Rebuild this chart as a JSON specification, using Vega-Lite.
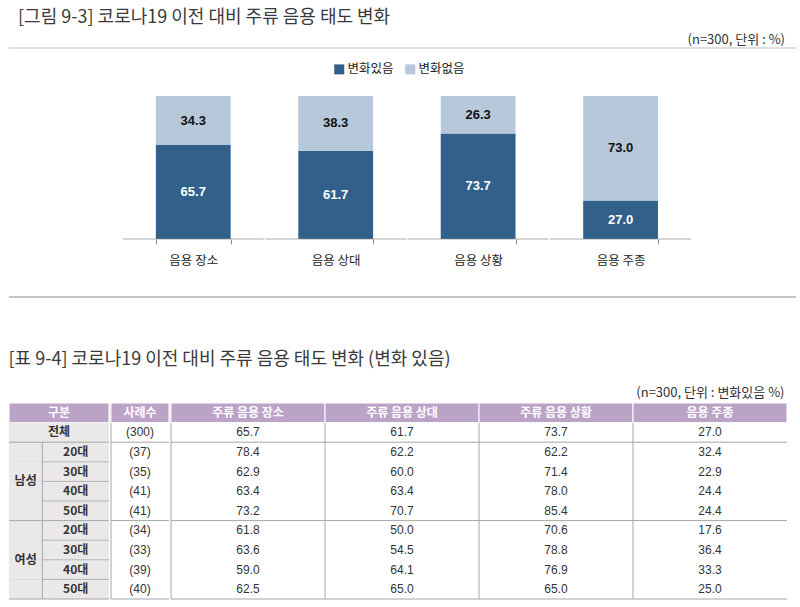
{
  "$schema": "https://vega.github.io/schema/vega-lite/v6.json",
  "background": "white",
  "padding": {"left": 8, "top": 8, "right": 5, "bottom": 0},
  "title": {"text": "[그림 9-3] 코로나19 이전 대비 주류 음용 태도 변화", "anchor": "start", "dx": 10, "fontSize": 18, "fontWeight": "normal", "color": "#3a3a3a", "font": "Noto Sans CJK KR", "offset": 7},
  "datasets": {
    "bars": [
      {"cat": "음용 장소", "grp": "변화있음", "v": 65.7},
      {"cat": "음용 장소", "grp": "변화없음", "v": 34.3},
      {"cat": "음용 상대", "grp": "변화있음", "v": 61.7},
      {"cat": "음용 상대", "grp": "변화없음", "v": 38.3},
      {"cat": "음용 상황", "grp": "변화있음", "v": 73.7},
      {"cat": "음용 상황", "grp": "변화없음", "v": 26.3},
      {"cat": "음용 주종", "grp": "변화있음", "v": 27.0},
      {"cat": "음용 주종", "grp": "변화없음", "v": 73.0}
    ],
    "rows": [
      {"key": "전체", "sex": "전체", "age": "", "n": "(300)", "주류 음용 장소": 65.7, "주류 음용 상대": 61.7, "주류 음용 상황": 73.7, "음용 주종": 27.0},
      {"key": "남성 20대", "sex": "남성", "age": "20대", "n": "(37)", "주류 음용 장소": 78.4, "주류 음용 상대": 62.2, "주류 음용 상황": 62.2, "음용 주종": 32.4},
      {"key": "남성 30대", "sex": "남성", "age": "30대", "n": "(35)", "주류 음용 장소": 62.9, "주류 음용 상대": 60.0, "주류 음용 상황": 71.4, "음용 주종": 22.9},
      {"key": "남성 40대", "sex": "남성", "age": "40대", "n": "(41)", "주류 음용 장소": 63.4, "주류 음용 상대": 63.4, "주류 음용 상황": 78.0, "음용 주종": 24.4},
      {"key": "남성 50대", "sex": "남성", "age": "50대", "n": "(41)", "주류 음용 장소": 73.2, "주류 음용 상대": 70.7, "주류 음용 상황": 85.4, "음용 주종": 24.4},
      {"key": "여성 20대", "sex": "여성", "age": "20대", "n": "(34)", "주류 음용 장소": 61.8, "주류 음용 상대": 50.0, "주류 음용 상황": 70.6, "음용 주종": 17.6},
      {"key": "여성 30대", "sex": "여성", "age": "30대", "n": "(33)", "주류 음용 장소": 63.6, "주류 음용 상대": 54.5, "주류 음용 상황": 78.8, "음용 주종": 36.4},
      {"key": "여성 40대", "sex": "여성", "age": "40대", "n": "(39)", "주류 음용 장소": 59.0, "주류 음용 상대": 64.1, "주류 음용 상황": 76.9, "음용 주종": 33.3},
      {"key": "여성 50대", "sex": "여성", "age": "50대", "n": "(40)", "주류 음용 장소": 62.5, "주류 음용 상대": 65.0, "주류 음용 상황": 65.0, "음용 주종": 25.0}
    ]
  },
  "spacing": 52,
  "vconcat": [
    {
      "width": 787,
      "height": 249,
      "title": {"text": "(n=300, 단위 : %)", "anchor": "end", "dx": -12, "fontSize": 13, "fontWeight": "normal", "color": "#333333", "offset": 1},
      "data": {"name": "bars"},
      "layer": [
        {
          "transform": [{"filter": "datum.cat == '음용 장소' && datum.grp == '변화있음'"}],
          "mark": {"type": "rule", "color": "#BDBDBD", "strokeWidth": 1},
          "encoding": {"y": {"value": 0}}
        },
        {
          "transform": [{"filter": "datum.cat == '음용 장소' && datum.grp == '변화있음'"}],
          "mark": {"type": "rule", "color": "#C4C4C4", "strokeWidth": 2},
          "encoding": {"y": {"value": "height"}}
        },
        {
          "mark": {"type": "bar"},
          "encoding": {
            "x": {"field": "cat", "type": "nominal", "scale": {"domain": ["음용 장소", "음용 상대", "음용 상황", "음용 주종"], "paddingInner": 0.475, "paddingOuter": 1.028, "align": 0.5155}, "axis": {"title": null, "orient": "bottom", "offset": -58, "domain": false, "ticks": true, "tickBand": "extent", "tickSize": 5, "tickColor": "#8c8c8c", "labelFontSize": 12.5, "labelColor": "#222222", "labelPadding": 10, "labelFont": "Noto Sans CJK KR", "labelAngle": 0, "grid": false}},
            "y": {"field": "v", "type": "quantitative", "stack": "zero", "scale": {"domain": [-40.56, 133.57], "nice": false, "zero": false}, "axis": null},
            "order": {"field": "grp", "sort": "descending"},
            "color": {"field": "grp", "type": "nominal", "scale": {"domain": ["변화있음", "변화없음"], "range": ["#31618A", "#B6C8DA"]}, "legend": {"orient": "none", "legendX": 324, "legendY": 15, "direction": "horizontal", "title": null, "symbolType": "square", "symbolSize": 100, "symbolStrokeWidth": 0, "labelFontSize": 12.5, "labelColor": "#222222", "labelFont": "Noto Sans CJK KR", "columnPadding": 10, "labelOffset": 2}}
          }
        },
        {
          "mark": {"type": "text", "fontSize": 13, "fontWeight": "bold", "font": "Liberation Sans"},
          "encoding": {
            "x": {"field": "cat", "type": "nominal", "scale": {"domain": ["음용 장소", "음용 상대", "음용 상황", "음용 주종"], "paddingInner": 0.475, "paddingOuter": 1.028, "align": 0.5155}, "axis": {"title": null, "orient": "bottom", "offset": -58, "domain": false, "ticks": true, "tickBand": "extent", "tickSize": 5, "tickColor": "#8c8c8c", "labelFontSize": 12.5, "labelColor": "#222222", "labelPadding": 10, "labelFont": "Noto Sans CJK KR", "labelAngle": 0, "grid": false}},
            "y": {"field": "v", "type": "quantitative", "stack": "zero", "bandPosition": 0.5, "scale": {"domain": [-40.56, 133.57], "nice": false, "zero": false}, "axis": null},
            "order": {"field": "grp", "sort": "descending"},
            "detail": {"field": "grp", "type": "nominal"},
            "text": {"field": "v", "type": "quantitative", "format": ".1f"},
            "color": {"condition": {"test": "datum.grp == '변화있음'", "value": "#ffffff"}, "value": "#111111"}
          }
        },
        {
          "transform": [{"filter": "datum.grp == '변화있음'"}],
          "mark": {"type": "tick", "size": 141, "thickness": 1, "color": "#8c8c8c"},
          "encoding": {
            "x": {"field": "cat", "type": "nominal", "scale": {"domain": ["음용 장소", "음용 상대", "음용 상황", "음용 주종"], "paddingInner": 0.475, "paddingOuter": 1.028, "align": 0.5155}, "axis": {"title": null, "orient": "bottom", "offset": -58, "domain": false, "ticks": true, "tickBand": "extent", "tickSize": 5, "tickColor": "#8c8c8c", "labelFontSize": 12.5, "labelColor": "#222222", "labelPadding": 10, "labelFont": "Noto Sans CJK KR", "labelAngle": 0, "grid": false}},
            "y": {"datum": 0, "type": "quantitative", "scale": {"domain": [-40.56, 133.57], "nice": false, "zero": false}, "axis": null}
          }
        }
      ]
    },
    {
      "title": {"text": "[표 9-4] 코로나19 이전 대비 주류 음용 태도 변화 (변화 있음)", "anchor": "start", "fontSize": 18, "fontWeight": "normal", "color": "#3a3a3a", "font": "Noto Sans CJK KR", "offset": 18},
      "vconcat": [
        {
          "title": {"text": "(n=300, 단위 : 변화있음 %)", "anchor": "end", "dx": -3, "fontSize": 13, "fontWeight": "normal", "color": "#333333", "offset": 3},
          "spacing": 0,
          "hconcat": [
            {
              "width": 100,
              "height": 196,
              "data": {"name": "rows"},
              "layer": [
                {
                  "mark": {"type": "rect", "fill": "#EAE8E8"},
                  "encoding": {"y": {"field": "key", "type": "nominal", "scale": {"domain": ["hdr", "전체", "남성 20대", "남성 30대", "남성 40대", "남성 50대", "여성 20대", "여성 30대", "여성 40대", "여성 50대"], "paddingInner": 0, "paddingOuter": 0}, "axis": null}}
                },
                {
                  "transform": [{"filter": {"field": "age", "oneOf": ["20대", "30대", "40대"]}}],
                  "mark": {"type": "rule", "color": "#B5B5B5"},
                  "encoding": {"y": {"field": "key", "type": "nominal", "bandPosition": 1, "scale": {"domain": ["hdr", "전체", "남성 20대", "남성 30대", "남성 40대", "남성 50대", "여성 20대", "여성 30대", "여성 40대", "여성 50대"], "paddingInner": 0, "paddingOuter": 0}, "axis": null}}
                },
                {
                  "transform": [{"filter": "datum.key != '전체'"}],
                  "mark": {"type": "rect", "fill": "#EAE8E8"},
                  "encoding": {
                    "x": {"datum": "s", "type": "nominal", "scale": {"domain": ["s", "a", "b"], "paddingInner": 0, "paddingOuter": 0}, "axis": null},
                    "y": {"field": "key", "type": "nominal", "scale": {"domain": ["hdr", "전체", "남성 20대", "남성 30대", "남성 40대", "남성 50대", "여성 20대", "여성 30대", "여성 40대", "여성 50대"], "paddingInner": 0, "paddingOuter": 0}, "axis": null}
                  }
                },
                {
                  "transform": [{"filter": "datum.key == '전체'"}],
                  "mark": {"type": "rule", "color": "#A6A6A6"},
                  "encoding": {"x": {"datum": "s", "type": "nominal", "bandPosition": 1, "scale": {"domain": ["s", "a", "b"], "paddingInner": 0, "paddingOuter": 0}, "axis": null}}
                },
                {
                  "transform": [{"filter": "datum.key == '전체'"}],
                  "mark": {"type": "rect", "fill": "#BBA2C7", "stroke": "#ffffff", "strokeWidth": 1},
                  "encoding": {"y": {"datum": "hdr", "type": "nominal", "scale": {"domain": ["hdr", "전체", "남성 20대", "남성 30대", "남성 40대", "남성 50대", "여성 20대", "여성 30대", "여성 40대", "여성 50대"], "paddingInner": 0, "paddingOuter": 0}, "axis": null}}
                },
                {
                  "transform": [{"filter": "datum.key == '전체'"}],
                  "mark": {"type": "rect", "fill": "#EAE8E8"},
                  "encoding": {"y": {"field": "key", "type": "nominal", "scale": {"domain": ["hdr", "전체", "남성 20대", "남성 30대", "남성 40대", "남성 50대", "여성 20대", "여성 30대", "여성 40대", "여성 50대"], "paddingInner": 0, "paddingOuter": 0}, "axis": null}}
                },
                {
                  "transform": [{"filter": {"field": "key", "oneOf": ["전체", "남성 50대", "여성 50대"]}}],
                  "mark": {"type": "rule", "color": "#A6A6A6"},
                  "encoding": {"y": {"field": "key", "type": "nominal", "bandPosition": 1, "scale": {"domain": ["hdr", "전체", "남성 20대", "남성 30대", "남성 40대", "남성 50대", "여성 20대", "여성 30대", "여성 40대", "여성 50대"], "paddingInner": 0, "paddingOuter": 0}, "axis": null}}
                },
                {
                  "transform": [{"filter": "datum.key == '전체'"}],
                  "mark": {"type": "text", "fontWeight": "bold", "fontSize": 12, "color": "#ffffff", "font": "Noto Sans CJK KR"},
                  "encoding": {
                    "x": {"datum": "a", "type": "nominal", "scale": {"domain": ["s", "a", "b"], "paddingInner": 0, "paddingOuter": 0}, "axis": null},
                    "y": {"datum": "hdr", "type": "nominal", "scale": {"domain": ["hdr", "전체", "남성 20대", "남성 30대", "남성 40대", "남성 50대", "여성 20대", "여성 30대", "여성 40대", "여성 50대"], "paddingInner": 0, "paddingOuter": 0}, "axis": null},
                    "text": {"value": "구분"}
                  }
                },
                {
                  "transform": [{"filter": "datum.key == '전체'"}],
                  "mark": {"type": "text", "fontWeight": "bold", "fontSize": 12, "color": "#333333", "font": "Noto Sans CJK KR"},
                  "encoding": {
                    "x": {"datum": "a", "type": "nominal", "scale": {"domain": ["s", "a", "b"], "paddingInner": 0, "paddingOuter": 0}, "axis": null},
                    "y": {"field": "key", "type": "nominal", "scale": {"domain": ["hdr", "전체", "남성 20대", "남성 30대", "남성 40대", "남성 50대", "여성 20대", "여성 30대", "여성 40대", "여성 50대"], "paddingInner": 0, "paddingOuter": 0}, "axis": null},
                    "text": {"field": "sex"}
                  }
                },
                {
                  "transform": [{"filter": "datum.age == '30대'"}],
                  "mark": {"type": "text", "fontWeight": "bold", "fontSize": 12, "color": "#333333", "font": "Noto Sans CJK KR"},
                  "encoding": {
                    "x": {"datum": "s", "type": "nominal", "scale": {"domain": ["s", "a", "b"], "paddingInner": 0, "paddingOuter": 0}, "axis": null},
                    "y": {"field": "key", "type": "nominal", "bandPosition": 1, "scale": {"domain": ["hdr", "전체", "남성 20대", "남성 30대", "남성 40대", "남성 50대", "여성 20대", "여성 30대", "여성 40대", "여성 50대"], "paddingInner": 0, "paddingOuter": 0}, "axis": null},
                    "text": {"field": "sex"}
                  }
                },
                {
                  "transform": [{"filter": "datum.key != '전체'"}],
                  "mark": {"type": "text", "fontWeight": "bold", "fontSize": 12, "color": "#333333", "font": "Noto Sans CJK KR"},
                  "encoding": {
                    "x": {"datum": "a", "type": "nominal", "bandPosition": 1, "scale": {"domain": ["s", "a", "b"], "paddingInner": 0, "paddingOuter": 0}, "axis": null},
                    "y": {"field": "key", "type": "nominal", "scale": {"domain": ["hdr", "전체", "남성 20대", "남성 30대", "남성 40대", "남성 50대", "여성 20대", "여성 30대", "여성 40대", "여성 50대"], "paddingInner": 0, "paddingOuter": 0}, "axis": null},
                    "text": {"field": "age"}
                  }
                }
              ]
            },
            {
              "width": 58,
              "height": 196,
              "data": {"name": "rows"},
              "layer": [
                {
                  "transform": [{"filter": "datum.key == '전체'"}],
                  "mark": {"type": "rule", "color": "#A6A6A6"},
                  "encoding": {"x": {"datum": "n", "type": "nominal", "bandPosition": 0, "scale": {"domain": ["n"], "paddingInner": 0, "paddingOuter": 0}, "axis": null}}
                },
                {
                  "transform": [{"filter": "datum.key == '전체'"}],
                  "mark": {"type": "rect", "fill": "#BBA2C7", "stroke": "#ffffff", "strokeWidth": 1},
                  "encoding": {
                    "x": {"datum": "n", "type": "nominal", "scale": {"domain": ["n"], "paddingInner": 0, "paddingOuter": 0}, "axis": null},
                    "y": {"datum": "hdr", "type": "nominal", "scale": {"domain": ["hdr", "전체", "남성 20대", "남성 30대", "남성 40대", "남성 50대", "여성 20대", "여성 30대", "여성 40대", "여성 50대"], "paddingInner": 0, "paddingOuter": 0}, "axis": null}
                  }
                },
                {
                  "transform": [{"filter": {"field": "key", "oneOf": ["전체", "남성 50대", "여성 50대"]}}],
                  "mark": {"type": "rule", "color": "#A6A6A6"},
                  "encoding": {"y": {"field": "key", "type": "nominal", "bandPosition": 1, "scale": {"domain": ["hdr", "전체", "남성 20대", "남성 30대", "남성 40대", "남성 50대", "여성 20대", "여성 30대", "여성 40대", "여성 50대"], "paddingInner": 0, "paddingOuter": 0}, "axis": null}}
                },
                {
                  "transform": [{"filter": "datum.key == '전체'"}],
                  "mark": {"type": "text", "fontWeight": "bold", "fontSize": 12, "color": "#ffffff", "font": "Noto Sans CJK KR"},
                  "encoding": {
                    "x": {"datum": "n", "type": "nominal", "scale": {"domain": ["n"], "paddingInner": 0, "paddingOuter": 0}, "axis": null},
                    "y": {"datum": "hdr", "type": "nominal", "scale": {"domain": ["hdr", "전체", "남성 20대", "남성 30대", "남성 40대", "남성 50대", "여성 20대", "여성 30대", "여성 40대", "여성 50대"], "paddingInner": 0, "paddingOuter": 0}, "axis": null},
                    "text": {"value": "사례수"}
                  }
                },
                {
                  "mark": {"type": "text", "fontSize": 12, "color": "#333333", "font": "Liberation Sans Narrow, Liberation Sans, sans-serif"},
                  "encoding": {
                    "x": {"datum": "n", "type": "nominal", "scale": {"domain": ["n"], "paddingInner": 0, "paddingOuter": 0}, "axis": null},
                    "y": {"field": "key", "type": "nominal", "scale": {"domain": ["hdr", "전체", "남성 20대", "남성 30대", "남성 40대", "남성 50대", "여성 20대", "여성 30대", "여성 40대", "여성 50대"], "paddingInner": 0, "paddingOuter": 0}, "axis": null},
                    "text": {"field": "n"}
                  }
                }
              ]
            },
            {
              "width": 616,
              "height": 196,
              "data": {"name": "rows"},
              "transform": [{"fold": ["주류 음용 장소", "주류 음용 상대", "주류 음용 상황", "음용 주종"], "as": ["col", "val"]}],
              "layer": [
                {
                  "transform": [{"filter": "datum.key == '전체'"}],
                  "mark": {"type": "rule", "color": "#A6A6A6"},
                  "encoding": {"x": {"field": "col", "type": "nominal", "bandPosition": 0, "scale": {"domain": ["주류 음용 장소", "주류 음용 상대", "주류 음용 상황", "음용 주종"], "paddingInner": 0, "paddingOuter": 0}, "axis": null}}
                },
                {
                  "transform": [{"filter": "datum.key == '전체'"}],
                  "mark": {"type": "rect", "fill": "#BBA2C7", "stroke": "#ffffff", "strokeWidth": 1},
                  "encoding": {
                    "x": {"field": "col", "type": "nominal", "scale": {"domain": ["주류 음용 장소", "주류 음용 상대", "주류 음용 상황", "음용 주종"], "paddingInner": 0, "paddingOuter": 0}, "axis": null},
                    "y": {"datum": "hdr", "type": "nominal", "scale": {"domain": ["hdr", "전체", "남성 20대", "남성 30대", "남성 40대", "남성 50대", "여성 20대", "여성 30대", "여성 40대", "여성 50대"], "paddingInner": 0, "paddingOuter": 0}, "axis": null}
                  }
                },
                {
                  "transform": [{"filter": {"field": "key", "oneOf": ["전체", "남성 50대", "여성 50대"]}}, {"filter": "datum.col == '주류 음용 장소'"}],
                  "mark": {"type": "rule", "color": "#A6A6A6"},
                  "encoding": {"y": {"field": "key", "type": "nominal", "bandPosition": 1, "scale": {"domain": ["hdr", "전체", "남성 20대", "남성 30대", "남성 40대", "남성 50대", "여성 20대", "여성 30대", "여성 40대", "여성 50대"], "paddingInner": 0, "paddingOuter": 0}, "axis": null}}
                },
                {
                  "transform": [{"filter": "datum.key == '전체'"}],
                  "mark": {"type": "text", "fontWeight": "bold", "fontSize": 12, "color": "#ffffff", "font": "Noto Sans CJK KR"},
                  "encoding": {
                    "x": {"field": "col", "type": "nominal", "scale": {"domain": ["주류 음용 장소", "주류 음용 상대", "주류 음용 상황", "음용 주종"], "paddingInner": 0, "paddingOuter": 0}, "axis": null},
                    "y": {"datum": "hdr", "type": "nominal", "scale": {"domain": ["hdr", "전체", "남성 20대", "남성 30대", "남성 40대", "남성 50대", "여성 20대", "여성 30대", "여성 40대", "여성 50대"], "paddingInner": 0, "paddingOuter": 0}, "axis": null},
                    "text": {"field": "col"}
                  }
                },
                {
                  "mark": {"type": "text", "fontSize": 12, "color": "#333333", "font": "Liberation Sans Narrow, Liberation Sans, sans-serif"},
                  "encoding": {
                    "x": {"field": "col", "type": "nominal", "scale": {"domain": ["주류 음용 장소", "주류 음용 상대", "주류 음용 상황", "음용 주종"], "paddingInner": 0, "paddingOuter": 0}, "axis": null},
                    "y": {"field": "key", "type": "nominal", "scale": {"domain": ["hdr", "전체", "남성 20대", "남성 30대", "남성 40대", "남성 50대", "여성 20대", "여성 30대", "여성 40대", "여성 50대"], "paddingInner": 0, "paddingOuter": 0}, "axis": null},
                    "text": {"field": "val", "type": "quantitative", "format": ".1f"}
                  }
                }
              ]
            }
          ]
        }
      ]
    }
  ],
  "config": {
    "view": {"stroke": null},
    "font": "Noto Sans CJK KR"
  }
}
